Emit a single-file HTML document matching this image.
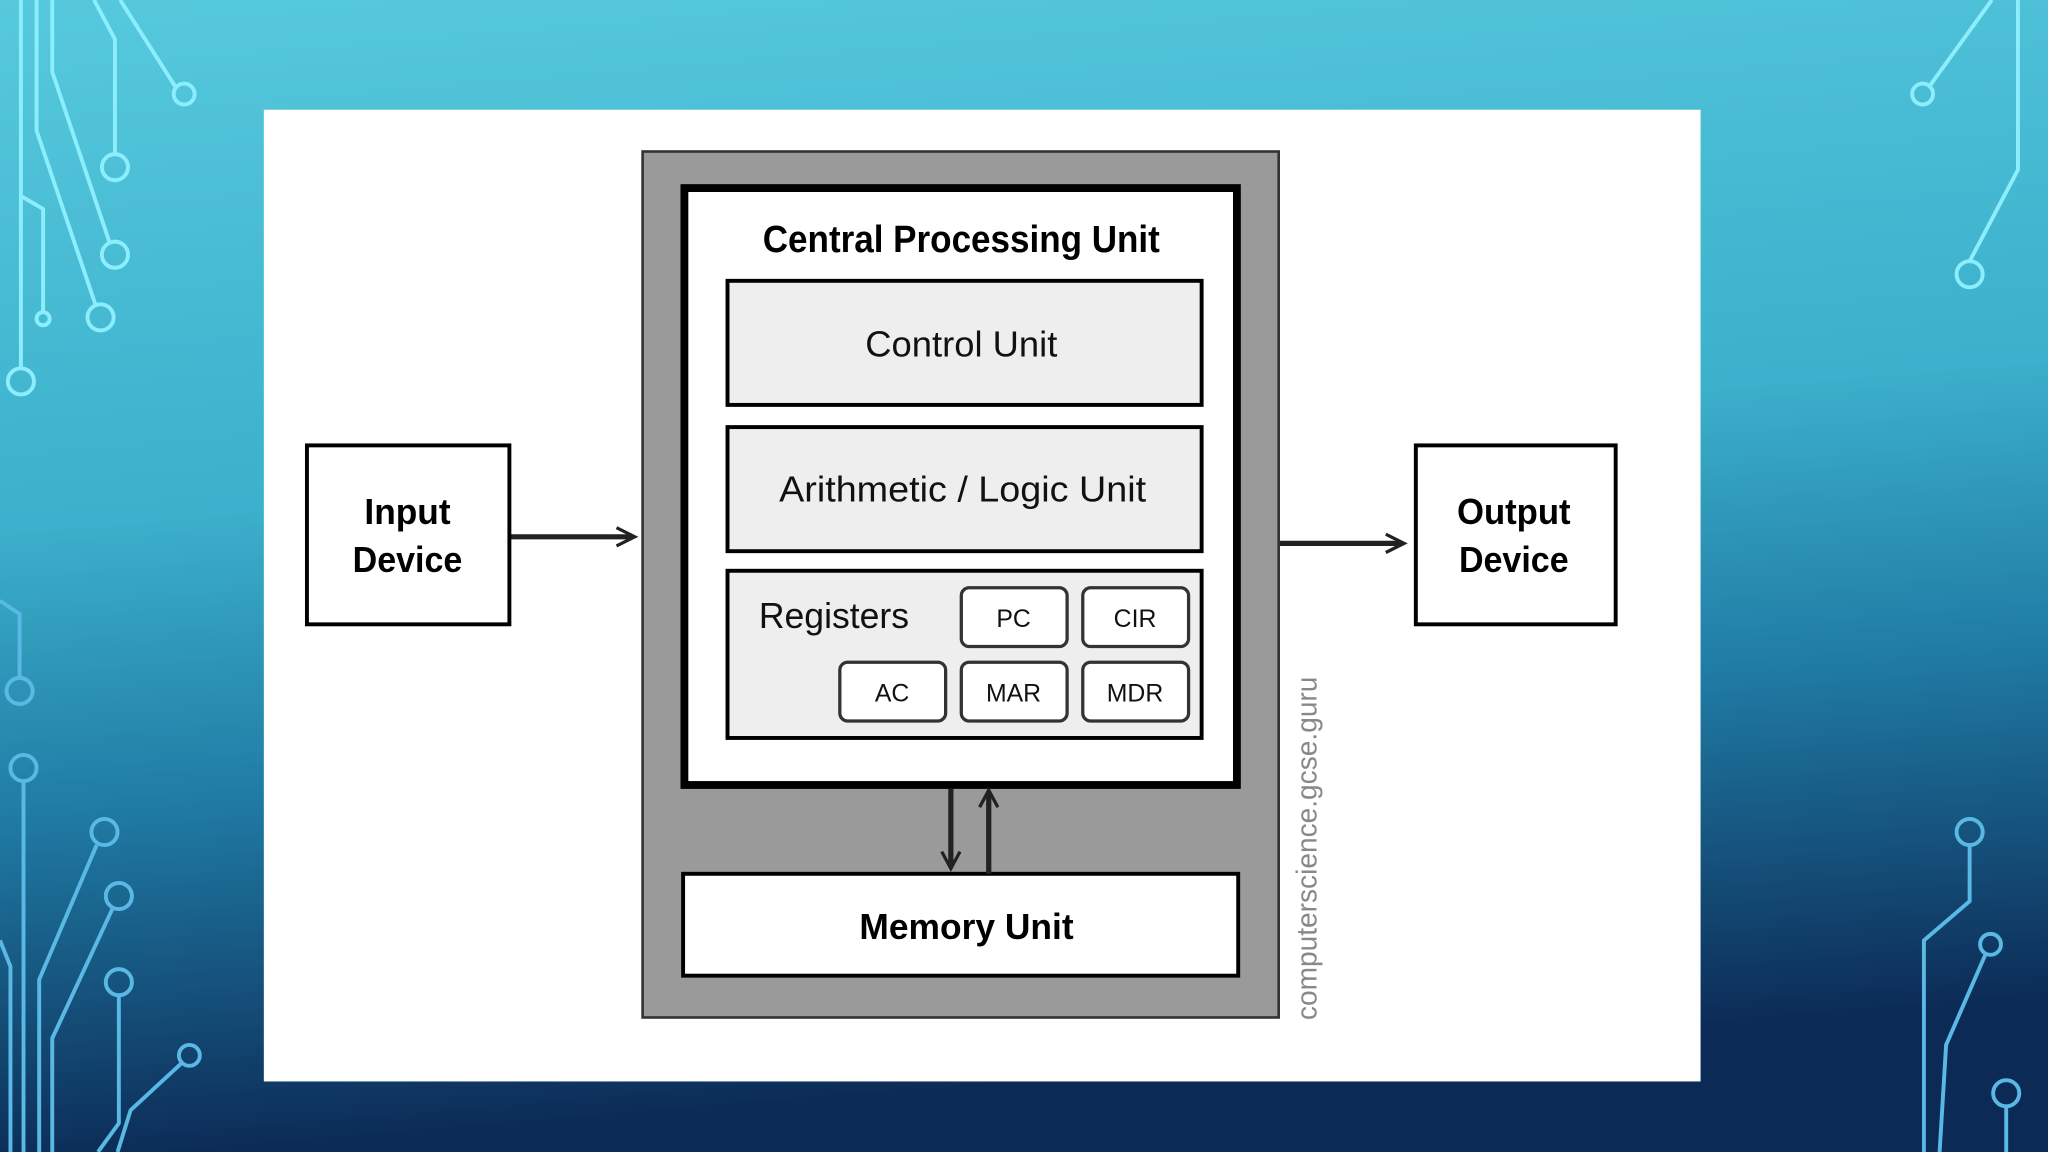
<!DOCTYPE html>
<html><head><meta charset="utf-8"><style>
html,body{margin:0;padding:0;width:2048px;height:1152px;overflow:hidden}
svg{display:block}
text{font-family:"Liberation Sans",sans-serif}
</style></head><body>
<svg width="2048" height="1152" viewBox="0 0 1568 882" xmlns="http://www.w3.org/2000/svg">
<defs>
<linearGradient id="bg" x1="0" y1="0" x2="0.15" y2="1">
<stop offset="0" stop-color="#56c9dd"/>
<stop offset="0.45" stop-color="#3cb0cc"/>
<stop offset="0.7" stop-color="#1f7aa3"/>
<stop offset="1" stop-color="#0b2a55"/>
</linearGradient>
</defs>
<rect width="1568" height="882" fill="url(#bg)"/>
<g fill="none" stroke="#8ceefc" stroke-width="3">
<path d="M16 0V282"/><circle cx="16" cy="292" r="10"/>
<path d="M28 0V100L73 233"/><circle cx="77" cy="243" r="10"/>
<path d="M40 0V55L84 186"/><circle cx="88" cy="195" r="10"/>
<path d="M72 0L88 30V117"/><circle cx="88" cy="128" r="10"/>
<path d="M92 0L134 66"/><circle cx="141" cy="72" r="8"/>
<path d="M16 150L33 160V238"/><circle cx="33" cy="244" r="5"/>
<path d="M1525 0L1478 65"/><circle cx="1472" cy="72" r="8"/>
<path d="M1545 0V130L1508 200"/><circle cx="1508" cy="210" r="10"/>
</g>
<g fill="none" stroke="#5ab8e4" stroke-width="3">
<path d="M0 460L15 470V519"/><circle cx="15" cy="529" r="10"/>
<circle cx="18" cy="588" r="10"/><path d="M18 598V882"/>
<circle cx="80" cy="637" r="10"/><path d="M74 647L30 750V882"/>
<circle cx="91" cy="686" r="10"/><path d="M86 696L40 795V882"/>
<circle cx="91" cy="752" r="10"/><path d="M91 762V860L75 882"/>
<circle cx="145" cy="808" r="8"/><path d="M139 814L100 850L90 882"/>
<path d="M0 720L8 740V882"/>
<circle cx="1508" cy="637" r="10"/><path d="M1508 647V690L1473 720V882"/>
<circle cx="1524" cy="723" r="8"/><path d="M1520 731L1490 800L1485 882"/>
<circle cx="1536" cy="837" r="10"/><path d="M1536 847V882"/>
</g>
<rect x="202" y="84" width="1100" height="744" fill="#fff"/>
<rect x="492" y="116" width="487" height="663" fill="#9a9a9a" stroke="#333" stroke-width="2"/>
<rect x="524" y="144" width="423" height="457" fill="#fff" stroke="#000" stroke-width="6"/>
<text x="736" y="193" font-size="29" font-weight="bold" text-anchor="middle" textLength="304" lengthAdjust="spacingAndGlyphs">Central Processing Unit</text>
<rect x="557" y="215" width="363" height="95" fill="#eee" stroke="#000" stroke-width="3"/>
<text x="736" y="273" font-size="28" text-anchor="middle" textLength="147" lengthAdjust="spacingAndGlyphs" fill="#111">Control Unit</text>
<rect x="557" y="327" width="363" height="95" fill="#eee" stroke="#000" stroke-width="3"/>
<text x="737" y="384" font-size="28" text-anchor="middle" textLength="281" lengthAdjust="spacingAndGlyphs" fill="#111">Arithmetic / Logic Unit</text>
<rect x="557" y="437" width="363" height="128" fill="#eee" stroke="#000" stroke-width="3"/>
<text x="581" y="481" font-size="28" textLength="115" lengthAdjust="spacingAndGlyphs" fill="#111">Registers</text>
<g fill="#fff" stroke="#333" stroke-width="2.5">
<rect x="736" y="450" width="81" height="45" rx="6"/>
<rect x="829" y="450" width="81" height="45" rx="6"/>
<rect x="643" y="507" width="81" height="45" rx="6"/>
<rect x="736" y="507" width="81" height="45" rx="6"/>
<rect x="829" y="507" width="81" height="45" rx="6"/>
</g>
<g font-size="19" text-anchor="middle" fill="#111">
<text x="776" y="480">PC</text>
<text x="869" y="480">CIR</text>
<text x="683" y="537">AC</text>
<text x="776" y="537">MAR</text>
<text x="869" y="537">MDR</text>
</g>
<rect x="523" y="669" width="425" height="78" fill="#fff" stroke="#000" stroke-width="3"/>
<text x="740" y="719" font-size="28" font-weight="bold" text-anchor="middle" textLength="164" lengthAdjust="spacingAndGlyphs">Memory Unit</text>
<g stroke="#222" stroke-width="4" fill="none">
<path d="M728 604V664"/><path d="M721 652L728 665L735 652" stroke-width="2.5"/>
<path d="M757 669V606"/><path d="M750 618L757 605L764 618" stroke-width="2.5"/>
<path d="M391 411H484"/><path d="M472 404L486 411L472 418" stroke-width="2.5"/>
<path d="M980 416H1073"/><path d="M1061 409L1075 416L1061 423" stroke-width="2.5"/>
</g>
<rect x="235" y="341" width="155" height="137" fill="#fff" stroke="#000" stroke-width="3"/>
<text x="312" y="401" font-size="28" font-weight="bold" text-anchor="middle" textLength="66" lengthAdjust="spacingAndGlyphs">Input</text>
<text x="312" y="438" font-size="28" font-weight="bold" text-anchor="middle" textLength="84" lengthAdjust="spacingAndGlyphs">Device</text>
<rect x="1084" y="341" width="153" height="137" fill="#fff" stroke="#000" stroke-width="3"/>
<text x="1159" y="401" font-size="28" font-weight="bold" text-anchor="middle" textLength="87" lengthAdjust="spacingAndGlyphs">Output</text>
<text x="1159" y="438" font-size="28" font-weight="bold" text-anchor="middle" textLength="84" lengthAdjust="spacingAndGlyphs">Device</text>
<text transform="translate(1008 781) rotate(-90)" font-size="22" fill="#888" textLength="263" lengthAdjust="spacingAndGlyphs">computerscience.gcse.guru</text>
</svg>
</body></html>
